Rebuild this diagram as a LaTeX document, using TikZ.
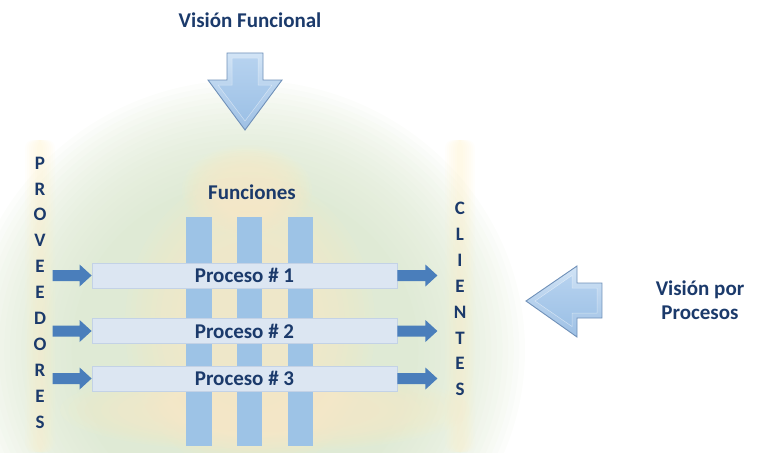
\documentclass[tikz,border=0pt]{standalone}
\usepackage{fontspec}
\setmainfont{Carlito}
\usetikzlibrary{calc}
\definecolor{navy}{HTML}{1B3A6B}
\definecolor{arrowblue}{HTML}{4A7EBB}
\definecolor{barblue}{HTML}{9DC3E6}
\definecolor{boxfill}{HTML}{DCE6F2}
\definecolor{boxline}{HTML}{C3D2E6}
\definecolor{glowgreen}{HTML}{D6E4C9}
\definecolor{glowyellow}{HTML}{FFF0C4}
\definecolor{beveltop}{HTML}{D2E4F6}
\definecolor{bevelbot}{HTML}{9CBFE4}
\definecolor{facetop}{HTML}{B6D2EF}
\definecolor{facebot}{HTML}{9DC1E6}
\definecolor{bigline}{HTML}{6F90B8}
\tikzset{
  lbl/.style={font=\bfseries\fontsize{21}{24}\selectfont, text=navy, inner sep=0pt},
  letters/.style={lbl, font=\bfseries\fontsize{19}{25.9}\selectfont, align=center},
  procbox/.style={draw=boxline, fill=boxfill, line width=0.8pt, minimum width=305pt, minimum height=25pt, inner sep=0pt, lbl},
  funcbar/.style={fill=barblue},
  smallarrow/.style={fill=arrowblue},
  bigarrow/.style={top color=beveltop, bottom color=bevelbot, draw=bigline, line width=0.9pt, line join=miter},
  bigface/.style={top color=facetop, bottom color=facebot, draw=white, draw opacity=0.5, line width=0.5pt, line join=miter},
  greenlayer/.style={fill=glowgreen, opacity=0.07},
  yellowlayer/.style={fill=glowyellow, opacity=0.07},
}
\begin{document}
\begin{tikzpicture}[x=1pt,y=-1pt]
\useasboundingbox (0,0) rectangle (767,452);
% background glows (layered for soft edges)
\foreach \s in {1.0,0.98,...,0.58}{
  \fill[greenlayer] (245,350) ellipse [x radius=280*\s, y radius=270*\s];
}
\foreach \s in {1.0,0.96,...,0.5}{
  \fill[yellowlayer] (250,325) ellipse [x radius=125*\s, y radius=150*\s];
  \fill[yellowlayer] (265,410) ellipse [x radius=205*\s, y radius=42*\s];
  \fill[yellowlayer] (247,190) ellipse [x radius=65*\s, y radius=45*\s];
}
\foreach \w in {15,13,...,3}{
  \fill[yellowlayer, rounded corners=8pt] (40-\w,140) rectangle (40+\w,452);
  \fill[yellowlayer, rounded corners=8pt] (460-\w,140) rectangle (460+\w,452);
}
% titles
\node[lbl] (vf) at (250,20) {Visión Funcional};
\node[lbl, align=center, font=\bfseries\fontsize{21}{24}\selectfont] (vp) at (700,300) {Visión por\\Procesos};
\node[lbl] (fun) at (252,192) {Funciones};
% big arrows with bevel
\path[bigarrow] (227,53) -- (263,53) -- (263,80) -- (282,80) -- (245,130) -- (208,80) -- (227,80) -- cycle;
\path[bigface] (232,58) -- (258,58) -- (258,85) -- (272,85) -- (245,121) -- (218,85) -- (232,85) -- cycle;
\path[bigarrow] (526,301) -- (577,266) -- (577,283) -- (602,283) -- (602,318) -- (577,318) -- (577,337) -- cycle;
\path[bigface] (535,301) -- (572,275.5) -- (572,288) -- (597,288) -- (597,313) -- (572,313) -- (572,326.5) -- cycle;
% function bars
\fill[funcbar] (186,217) rectangle (212,446);
\fill[funcbar] (237,217) rectangle (262,446);
\fill[funcbar] (288,217) rectangle (313,446);
% process boxes
\node[procbox] (p1) at (244.5,275.5) {Proceso \# 1};
\node[procbox] (p2) at (244.5,331) {Proceso \# 2};
\node[procbox] (p3) at (244.5,378.5) {Proceso \# 3};
% vertical words
\node[letters] (prov) at (40,292.5) {P\\R\\O\\V\\E\\E\\D\\O\\R\\E\\S};
\node[letters] (cli) at (460,299) {C\\L\\I\\E\\N\\T\\E\\S};
% small arrows
\foreach \b in {p1,p2,p3}{
  \fill[smallarrow] ($(\b.west)+(-39,-5.5)$) -- ($(\b.west)+(-12,-5.5)$) -- ($(\b.west)+(-12,-11)$) -- (\b.west) -- ($(\b.west)+(-12,11)$) -- ($(\b.west)+(-12,5.5)$) -- ($(\b.west)+(-39,5.5)$) -- cycle;
  \fill[smallarrow] ($(\b.east)+(0,-5.5)$) -- ($(\b.east)+(28,-5.5)$) -- ($(\b.east)+(28,-11)$) -- ($(\b.east)+(40,0)$) -- ($(\b.east)+(28,11)$) -- ($(\b.east)+(28,5.5)$) -- ($(\b.east)+(0,5.5)$) -- cycle;
}
\end{tikzpicture}
\end{document}
